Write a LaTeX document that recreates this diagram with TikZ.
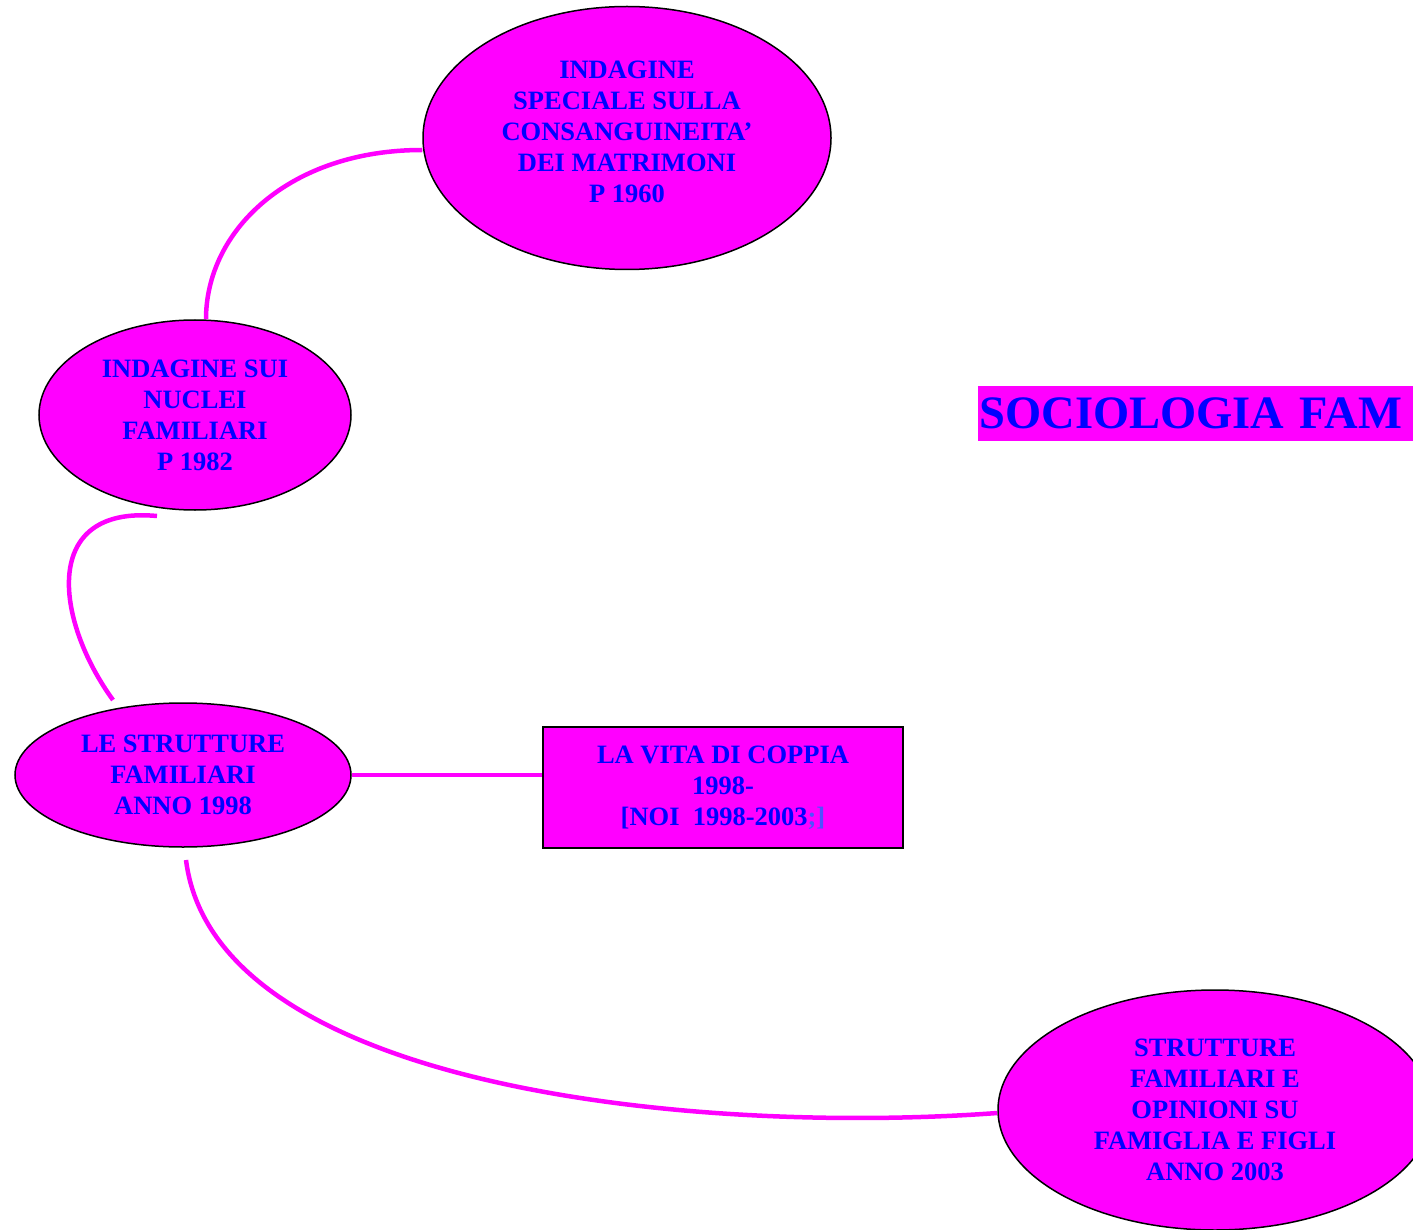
\documentclass[tikz,border=0pt]{standalone}
\usepackage{fontspec}
\setmainfont{Liberation Serif}
\usetikzlibrary{shapes.geometric}
\definecolor{fuxia}{RGB}{255,0,255}
\definecolor{testo}{RGB}{0,0,255}
\definecolor{testochiaro}{RGB}{80,80,255}
\begin{document}
\begin{tikzpicture}[x=1pt,y=-1pt,thick,text badly centered]

	\useasboundingbox (0,0) rectangle (1413,1230);
	\begin{scope}[every node/.style={draw=black,line width=1.5pt,fill=fuxia,text=testo,align=center,inner sep=0pt,
		font=\bfseries\fontsize{26.5}{31}\selectfont}]
		\node (n1960) at (627,138) [ellipse,minimum width=408,minimum height=263] {INDAGINE\\SPECIALE SULLA\\CONSANGUINEITA'\\DEI MATRIMONI\\P 1960\\[-18pt]};
		\node (n1982) at (195,415) [ellipse,minimum width=312,minimum height=190] {INDAGINE SUI\\NUCLEI\\FAMILIARI\\P 1982};
		\node (n1998) at (183,775) [ellipse,minimum width=336,minimum height=144] {LE STRUTTURE\\FAMILIARI\\ANNO 1998};
		\node (coppia) at (723,787.5) [rectangle,minimum width=360,minimum height=121] {LA VITA DI COPPIA\\1998-\\{}[NOI\ \ 1998-2003\textcolor{testochiaro}{;]}};
		\node (n2003) at (1215,1110) [ellipse,minimum width=434,minimum height=240] {STRUTTURE\\FAMILIARI E\\OPINIONI SU\\FAMIGLIA E FIGLI\\ANNO 2003};
	\end{scope}
	\node (titolo) at (978,413.5) [anchor=west,fill=fuxia,text=testo,inner sep=1pt,minimum height=55,text width=460,align=left,
		font=\bfseries\fontsize{46.5}{52}\selectfont] {SOCIOLOGIA FAM};

	\begin{scope}[draw=fuxia,line width=4.5pt]
		\draw (n1960.west |- 0,150) .. controls (290,150) and (206,230) .. (n1982.north -| 206,0);
		\draw (157,516) .. controls (40,505) and (55,620) .. (113,700);
		\draw (n1998.east) -- (n1998.east -| coppia.west);
		\draw (186,860) .. controls (215,1090) and (700,1135) .. (n2003.west |- 0,1113);
	\end{scope}

\end{tikzpicture}
\end{document}
